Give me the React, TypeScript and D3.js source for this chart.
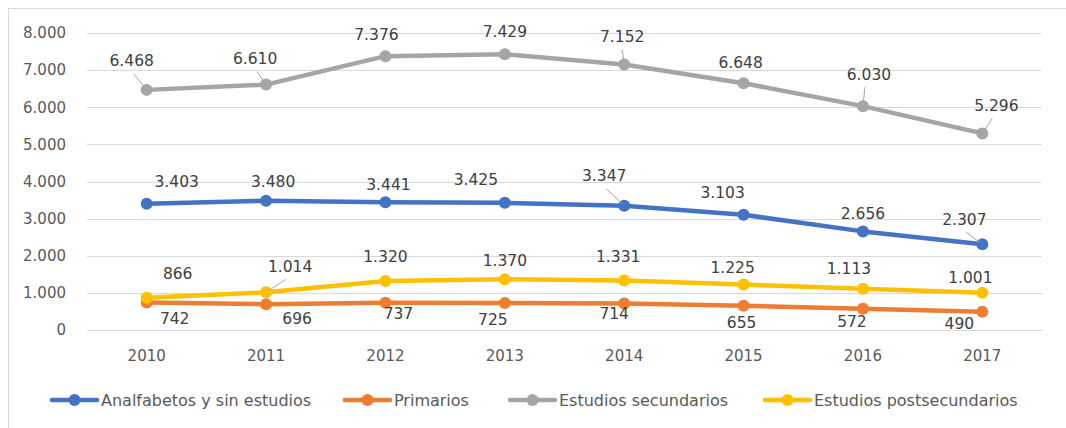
import * as d3 from "d3";

const years = ["2010", "2011", "2012", "2013", "2014", "2015", "2016", "2017"];
const analfabetos = [3403, 3480, 3441, 3425, 3347, 3103, 2656, 2307];
const primarios = [742, 696, 737, 725, 714, 655, 572, 490];
const secundarios = [6468, 6610, 7376, 7429, 7152, 6648, 6030, 5296];
const postsecundarios = [866, 1014, 1320, 1370, 1331, 1225, 1113, 1001];
const yTicks = [0, 1000, 2000, 3000, 4000, 5000, 6000, 7000, 8000];

// label placement like Excel (dx, dy from the point, leader line flag)
const lblAnalf: [number, number, boolean][] = [
  [30, -22, false], [7, -19, false], [3, -18, false], [-29, -23, false],
  [-20, -30, true], [-21, -22, false], [0, -18, false], [-18, -25, true],
];
const lblPrim: [number, number, boolean][] = [
  [28, 16, false], [31, 14, false], [13, 11, false], [-12, 16, false],
  [-10, 10, false], [-2, 17, false], [-11, 13, false], [-23, 12, false],
];
const lblSec: [number, number, boolean][] = [
  [-15, -29, true], [-11, -26, true], [-9, -22, false], [0, -23, false],
  [-2, -28, true], [-3, -21, false], [6, -32, true], [14, -28, true],
];
const lblPost: [number, number, boolean][] = [
  [31, -24, false], [24, -26, true], [0, -24, false], [0, -19, false],
  [-6, -24, false], [-11, -17, false], [-14, -20, false], [-12, -15, false],
];

const series = [
  { name: "Analfabetos y sin estudios", values: analfabetos, color: "#4472C4", labels: lblAnalf },
  { name: "Primarios", values: primarios, color: "#ED7D31", labels: lblPrim },
  { name: "Estudios secundarios", values: secundarios, color: "#A5A5A5", labels: lblSec },
  { name: "Estudios postsecundarios", values: postsecundarios, color: "#FFC000", labels: lblPost },
];
const legendX = [52, 345, 510, 765];

const W = 1066;
const H = 428;
const FONT = "'DejaVu Sans', sans-serif";

const locale = d3.formatLocale({ decimal: ",", thousands: ".", grouping: [3], currency: ["", "€"] });
const fmt = locale.format(",d");

export default function App() {
  const x = d3.scalePoint<string>().domain(years).range([87, 1042]).padding(0.5);
  const y = d3.scaleLinear().domain([0, 8000]).range([330, 33]);
  const line = d3
    .line<number>()
    .x((_, i) => x(years[i]) as number)
    .y((d) => y(d));

  // draw order like Excel: first series at bottom
  const drawOrder = [1, 3, 0, 2];

  return (
    <svg
      width={W}
      height={H}
      style={{ position: "absolute", left: 0, top: 0, background: "#fff" }}
      fontFamily={FONT}
    >
      <rect x={0} y={0} width={W} height={H} fill="#fff" />
      <rect x={8.5} y={8.5} width={1080} height={440} fill="none" stroke="#d9d9d9" />

      {yTicks.map((t) => (
        <g key={t}>
          <line x1={87} x2={1042} y1={Math.round(y(t)) + 0.5} y2={Math.round(y(t)) + 0.5} stroke="#d9d9d9" strokeWidth={1} />
          <text x={66} y={y(t)} dy="0.35em" textAnchor="end" fontSize={15} fill="#595959">
            {fmt(t)}
          </text>
        </g>
      ))}

      {years.map((yr) => (
        <text key={yr} x={x(yr)} y={356} dy="0.35em" textAnchor="middle" fontSize={15} fill="#595959">
          {yr}
        </text>
      ))}

      {drawOrder.map((si) => {
        const s = series[si];
        return (
          <g key={s.name}>
            <path d={line(s.values) ?? ""} fill="none" stroke={s.color} strokeWidth={4.5} strokeLinejoin="round" strokeLinecap="round" />
            {s.values.map((v, i) => (
              <circle key={i} cx={x(years[i])} cy={y(v)} r={6} fill={s.color} />
            ))}
          </g>
        );
      })}

      {series.map((s) =>
        s.values.map((v, i) => {
          const px = x(years[i]) as number;
          const py = y(v);
          const [dx, dy, leader] = s.labels[i];
          const lx = px + dx;
          const ly = py + dy;
          let lead = null;
          if (leader) {
            const sx = lx + (dx > 0 ? -4 : dx < -8 ? 2 : 0);
            const sy = ly + (dy < 0 ? 13 : -13);
            const vx = px - sx;
            const vy = py - sy;
            const len = Math.hypot(vx, vy);
            lead = (
              <line x1={sx} y1={sy} x2={px - (vx / len) * 3} y2={py - (vy / len) * 3} stroke="#a6a6a6" strokeWidth={1} />
            );
          }
          return (
            <g key={s.name + i}>
              {lead}
              <text x={lx} y={ly} dy="0.35em" textAnchor="middle" fontSize={15.5} fill="#404040">
                {fmt(v)}
              </text>
            </g>
          );
        })
      )}

      {series.map((s, i) => (
        <g key={s.name} transform={`translate(${legendX[i]},400)`}>
          <line x1={0} x2={45} y1={0} y2={0} stroke={s.color} strokeWidth={4.5} strokeLinecap="round" />
          <circle cx={22.5} cy={0} r={6} fill={s.color} />
          <text x={49} y={0} dy="0.35em" fontSize={16} fill="#595959">
            {s.name}
          </text>
        </g>
      ))}
    </svg>
  );
}
